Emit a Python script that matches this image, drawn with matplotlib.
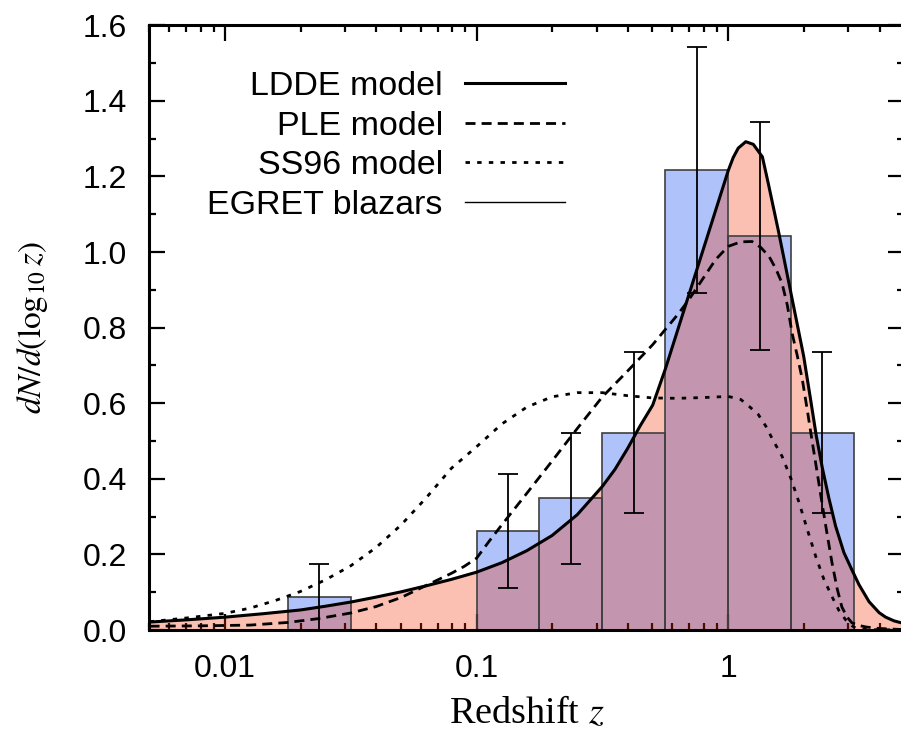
import numpy as np
import matplotlib
matplotlib.use('Agg')
import matplotlib.pyplot as plt
from matplotlib.lines import Line2D
from matplotlib.ticker import FixedLocator, FixedFormatter, MultipleLocator

plt.rcParams['font.family'] = ['Liberation Sans', 'DejaVu Sans']
plt.rcParams['mathtext.fontset'] = 'stix'

# EGRET blazar histogram (bins in log10 z, width 0.25)
bin_lo = [-1.75, -1.0, -0.75, -0.5, -0.25, 0.0, 0.25]
bin_hi = [-1.5, -0.75, -0.5, -0.25, 0.0, 0.25, 0.5]
hist_val = [0.087, 0.261, 0.348, 0.522, 1.217, 1.043, 0.522]
hist_err = [0.087, 0.151, 0.174, 0.213, 0.325, 0.301, 0.213]

# LDDE model (x in log10 z)
ldde_logz = [-2.30, -2.15, -2.00, -1.85, -1.70, -1.60, -1.50, -1.40, -1.30, -1.20,
             -1.10, -1.00, -0.90, -0.80, -0.70, -0.60, -0.50, -0.45, -0.40, -0.35,
             -0.30, -0.25, -0.20, -0.15, -0.10, -0.05, 0.00, 0.02, 0.04, 0.07,
             0.10, 0.136, 0.16, 0.20, 0.25, 0.30, 0.33, 0.35, 0.374, 0.40,
             0.427, 0.46, 0.492, 0.52, 0.56, 0.60, 0.626, 0.66, 0.70]
ldde_val = [0.021, 0.027, 0.034, 0.043, 0.053, 0.063, 0.074, 0.087, 0.101, 0.117,
            0.134, 0.153, 0.178, 0.210, 0.250, 0.305, 0.380, 0.425, 0.480, 0.540,
            0.595, 0.690, 0.795, 0.900, 1.005, 1.110, 1.215, 1.250, 1.275, 1.292,
            1.285, 1.252, 1.180, 1.055, 0.890, 0.725, 0.600, 0.515, 0.430, 0.350,
            0.275, 0.205, 0.159, 0.120, 0.075, 0.046, 0.034, 0.024, 0.017]

# PLE model
ple_logz = [-2.30, -2.10, -1.90, -1.75, -1.63, -1.50, -1.40, -1.30, -1.20, -1.10,
            -1.05, -1.00, -0.95, -0.90, -0.80, -0.70, -0.60, -0.50, -0.40, -0.30,
            -0.20, -0.155, -0.10, -0.05, 0.00, 0.05, 0.095, 0.13, 0.163, 0.19,
            0.214, 0.235, 0.254, 0.275, 0.295, 0.315, 0.333, 0.353, 0.373, 0.393,
            0.413, 0.433, 0.452, 0.472, 0.492, 0.52, 0.548, 0.60, 0.70]
ple_val = [0.010, 0.011, 0.013, 0.020, 0.030, 0.045, 0.062, 0.086, 0.118, 0.150,
           0.168, 0.190, 0.235, 0.278, 0.362, 0.447, 0.533, 0.617, 0.685, 0.755,
           0.835, 0.875, 0.930, 0.980, 1.015, 1.027, 1.028, 1.012, 0.988, 0.955,
           0.918, 0.860, 0.786, 0.725, 0.662, 0.580, 0.503, 0.420, 0.336, 0.255,
           0.177, 0.110, 0.061, 0.035, 0.019, 0.012, 0.008, 0.004, 0.001]

# SS96 model
ss_logz = [-2.30, -2.15, -2.00, -1.90, -1.80, -1.70, -1.60, -1.50, -1.40, -1.30,
           -1.20, -1.10, -1.00, -0.90, -0.80, -0.70, -0.60, -0.50, -0.40, -0.30,
           -0.20, -0.10, 0.00, 0.05, 0.083, 0.12, 0.15, 0.18, 0.214, 0.25,
           0.282, 0.315, 0.348, 0.38, 0.413, 0.44, 0.467, 0.49, 0.507, 0.55, 0.70]
ss_val = [0.022, 0.032, 0.044, 0.058, 0.078, 0.102, 0.133, 0.170, 0.218, 0.278,
          0.350, 0.428, 0.485, 0.545, 0.590, 0.617, 0.628, 0.628, 0.620, 0.614,
          0.613, 0.615, 0.618, 0.610, 0.592, 0.570, 0.539, 0.500, 0.460, 0.400,
          0.337, 0.265, 0.195, 0.135, 0.088, 0.052, 0.027, 0.012, 0.005, 0.001, 0.0]

fig = plt.figure(figsize=(9.01, 7.31), dpi=100)
ax = fig.add_axes([149.3 / 901, 101 / 731, 754.7 / 901, 604.7 / 731])

z_lo = 10 ** np.array(bin_lo)
z_hi = 10 ** np.array(bin_hi)
z_mid = 10 ** ((np.array(bin_lo) + np.array(bin_hi)) / 2)

# blue histogram, LDDE shading laid over it, then bar outlines on top
ax.bar(z_lo, hist_val, width=z_hi - z_lo, align='edge', color='#b0c2fa',
       linewidth=0, zorder=1)
zl = 10 ** np.array(ldde_logz)
ax.fill_between(zl, 0, ldde_val, color=(0.96, 0.19, 0.0), alpha=0.3,
                linewidth=0, zorder=2)
ax.bar(z_lo, hist_val, width=z_hi - z_lo, align='edge', fill=False,
       edgecolor='#404040', linewidth=1.2, zorder=2.5)

ax.errorbar(z_mid, hist_val, yerr=hist_err, fmt='none', ecolor='black',
            elinewidth=1.3, capsize=7, capthick=1.3, zorder=3)

ax.plot(zl, ldde_val, color='black', lw=2.2, zorder=4)
ax.plot(10 ** np.array(ple_logz), ple_val, color='black', lw=2.0,
        linestyle=(0, (3.6, 2.2)), zorder=4)
ax.plot(10 ** np.array(ss_logz), ss_val, color='black', lw=2.0,
        linestyle=(0, (1.6, 2.6)), zorder=4)

ax.set_xscale('log')
ax.set_xlim(0.005, 5)
ax.set_ylim(0, 1.6)

ax.xaxis.set_major_locator(FixedLocator([0.01, 0.1, 1]))
ax.xaxis.set_major_formatter(FixedFormatter(['0.01', '0.1', '1']))
minors = [m * 10.0 ** e for e in (-3, -2, -1, 0) for m in range(2, 10)]
ax.xaxis.set_minor_locator(FixedLocator(minors))
ax.xaxis.set_minor_formatter(FixedFormatter([''] * len(minors)))
ax.yaxis.set_major_locator(MultipleLocator(0.2))
ax.yaxis.set_minor_locator(MultipleLocator(0.1))
ax.yaxis.set_major_formatter(plt.FuncFormatter(lambda v, p: f'{v:.1f}'))

ax.tick_params(which='both', direction='in', top=True, right=True, width=1.6)
ax.tick_params(which='major', length=11.3, labelsize=23)
ax.tick_params(which='minor', length=5.3)
ax.tick_params(axis='x', which='major', pad=17)
ax.tick_params(axis='y', which='major', pad=16)
for sp in ax.spines.values():
    sp.set_linewidth(2.2)

ax.set_xlabel(r'Redshift $z$', fontsize=27.5, fontfamily='Liberation Serif')
ax.set_ylabel(r'$dN/d(\log_{10}z)$', fontsize=24)
ax.xaxis.set_label_coords(0.5, -0.110)
ax.yaxis.set_label_coords(-0.132, 0.5)

handles = [
    Line2D([], [], color='black', lw=2.2),
    Line2D([], [], color='black', lw=2.0, linestyle=(0, (3.6, 2.2))),
    Line2D([], [], color='black', lw=2.0, linestyle=(0, (1.6, 2.6))),
    Line2D([], [], color='black', lw=1.0),
]
labels = ['LDDE model', 'PLE model', 'SS96 model', 'EGRET blazars']
ax.legend(handles, labels, loc='upper right', bbox_to_anchor=(565 / 901, 1 - 71 / 731),
          bbox_transform=fig.transFigure, frameon=False, markerfirst=False,
          fontsize=24.5, handlelength=2.94, handletextpad=0.65, labelspacing=0.25,
          borderpad=0, borderaxespad=0)

fig.savefig('out.png', dpi=100, facecolor='white')
